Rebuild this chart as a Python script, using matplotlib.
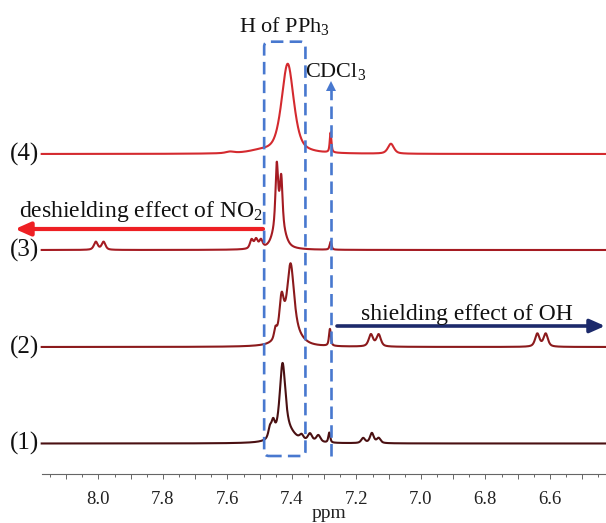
import numpy as np
import matplotlib
matplotlib.use('Agg')
import matplotlib.pyplot as plt
from matplotlib.ticker import MultipleLocator, FuncFormatter
from matplotlib.patches import FancyBboxPatch
from matplotlib.transforms import IdentityTransform

W, H = 606, 523
plt.rcParams['font.family'] = ['Liberation Serif', 'DejaVu Serif']
plt.rcParams['mathtext.fontset'] = 'custom'
plt.rcParams['mathtext.rm'] = 'Liberation Serif'
plt.rcParams['mathtext.it'] = 'Liberation Serif:italic'
plt.rcParams['lines.scale_dashes'] = False

# ---------------- data ----------------
trace_labels = ['(1)', '(2)', '(3)', '(4)']
trace_offsets = [30.5, 127, 224, 320]          # vertical stacking offsets
trace_colors = ['#4a1012', '#8b1a1c', '#a51b22', '#d42a2f']

# peak lists: position (ppm), height, full width at half height (ppm)
peaks1_ppm = [7.429, 7.420, 7.458, 7.468, 7.370, 7.344, 7.318, 7.284, 7.179, 7.152, 7.131]
peaks1_height = [67, 14, 14, 10, 5, 8, 7, 10, 5, 10, 5]
peaks1_width = [0.020, 0.060, 0.012, 0.012, 0.014, 0.016, 0.016, 0.007, 0.014, 0.014, 0.014]

peaks2_ppm = [7.404, 7.432, 7.451, 7.405, 7.282, 7.155, 7.131, 6.639, 6.613]
peaks2_height = [62, 37, 10, 20, 17, 12, 12, 13, 13]
peaks2_width = [0.024, 0.016, 0.010, 0.060, 0.007, 0.016, 0.016, 0.016, 0.016]

peaks3_ppm = [8.008, 7.984, 7.525, 7.511, 7.496, 7.447, 7.433, 7.440, 7.280]
peaks3_height = [8, 8, 9, 9, 8, 55, 42, 35, 8]
peaks3_width = [0.014, 0.014, 0.012, 0.012, 0.012, 0.009, 0.009, 0.035, 0.007]

peaks4_ppm = [7.413, 7.500, 7.592, 7.280, 7.093]
peaks4_height = [90, 2, 1.5, 20, 10]
peaks4_width = [0.045, 0.080, 0.030, 0.006, 0.022]

lorentz_fraction = 0.6          # line-shape mix (Lorentzian / Gaussian)

pph3_region = (7.486, 7.358)    # ppm range of the "H of PPh3" box
cdcl3_ppm = 7.280               # residual solvent signal

x_left, x_right = 8.1758, 6.426
tick_major, tick_minor = 0.1, 0.05

# ---------------- figure ----------------
fig = plt.figure(figsize=(W / 100, H / 100), dpi=100)
ax = fig.add_axes([41.7 / W, 49 / H, 1 - 41.7 / W, 474 / H])
ax.set_xlim(x_left, x_right)
ax.set_ylim(0, 474)

ppm = np.linspace(x_left, x_right, 6000)


def spectrum(pos, hgt, wid):
    y = np.zeros_like(ppm)
    eta = lorentz_fraction
    for c, h, w in zip(pos, hgt, wid):
        d = (ppm - c) / w
        y += h * (eta / (1 + 4 * d ** 2) + (1 - eta) * np.exp(-4 * np.log(2) * d ** 2))
    return y


peak_sets = [
    (peaks1_ppm, peaks1_height, peaks1_width),
    (peaks2_ppm, peaks2_height, peaks2_width),
    (peaks3_ppm, peaks3_height, peaks3_width),
    (peaks4_ppm, peaks4_height, peaks4_width),
]

for (pos, hgt, wid), off, col in zip(peak_sets, trace_offsets, trace_colors):
    ax.plot(ppm, off + spectrum(pos, hgt, wid), color=col, lw=1.5, clip_on=False,
            solid_joinstyle='round')

# axes styling
for s in ['top', 'left', 'right']:
    ax.spines[s].set_visible(False)
ax.spines['bottom'].set_color('#666666')
ax.spines['bottom'].set_linewidth(0.8)
ax.yaxis.set_visible(False)
ax.xaxis.set_major_locator(MultipleLocator(tick_major))
ax.xaxis.set_minor_locator(MultipleLocator(tick_minor))


def fmt(v, pos):
    k = int(round(v * 10))
    return '%.1f' % v if k % 2 == 0 else ''


ax.xaxis.set_major_formatter(FuncFormatter(fmt))
ax.tick_params(axis='x', which='major', length=3.6, width=0.7, color='#666666',
               labelsize=13.5, pad=8.5, labelcolor='#222222')
ax.tick_params(axis='x', which='minor', length=2.2, width=0.7, color='#666666')
ax.patch.set_alpha(0)


def fxy(x, y):
    return (x / W, 1 - y / H)


fig.text(*fxy(328.5, 518), 'ppm', ha='center', va='baseline', fontsize=14, color='#222222')

# trace labels
trace_pix_y = [443.5, 347, 250, 154]
for lab, yp in zip(trace_labels, trace_pix_y):
    fig.text(*fxy(39.5, yp + 6.5), lab, ha='right', va='baseline', fontsize=18, color='#111111')

blue = '#4878cf'
# dashed box around PPh3 region
fig.canvas.draw()
(x0, y0) = ax.transData.transform((pph3_region[0], 474 - 456))
(x1, y1) = ax.transData.transform((pph3_region[1], 474 - 41.7))
box = FancyBboxPatch((x0, y0), x1 - x0, y1 - y0,
                     boxstyle='round,pad=0,rounding_size=5',
                     transform=IdentityTransform(), fill=False, edgecolor=blue,
                     lw=1.9, linestyle=(0, (9, 4.5)), clip_on=False)
fig.patches.append(box)

# CDCl3 dashed arrow
ax.plot([cdcl3_ppm, cdcl3_ppm], [474 - 456, 474 - 90], color=blue, lw=1.9,
        linestyle=(0, (9, 4.5)), clip_on=False)
ax.plot([cdcl3_ppm], [474 - 86], marker='^', ms=6.5, color=blue, clip_on=False,
        markeredgewidth=0)

# texts
fig.text(*fxy(284, 32), r'H of PPh$_3$', ha='center', va='baseline', fontsize=16, color='#111111')
fig.text(*fxy(305, 77), r'CDCl$_3$', ha='left', va='baseline', fontsize=16, color='#111111')
fig.text(*fxy(19, 217), r'deshielding effect of NO$_2$', ha='left', va='baseline',
         fontsize=17, color='#111111')
fig.text(*fxy(361, 320), 'shielding effect of OH', ha='left', va='baseline',
         fontsize=17, color='#111111')

# arrows
ax.annotate('', xy=fxy(15, 229), xytext=fxy(263, 229), xycoords='figure fraction',
            textcoords='figure fraction',
            arrowprops=dict(arrowstyle='-|>,head_length=0.9,head_width=0.4',
                            lw=3, color='#ee2024', shrinkA=0, shrinkB=0,
                            mutation_scale=10))
ax.annotate('', xy=fxy(605, 326), xytext=fxy(337, 326), xycoords='figure fraction',
            textcoords='figure fraction',
            arrowprops=dict(arrowstyle='-|>,head_length=0.9,head_width=0.4',
                            lw=2.6, color='#1c2a6b', shrinkA=0, shrinkB=0,
                            mutation_scale=10))

fig.savefig('out.png', dpi=100)
